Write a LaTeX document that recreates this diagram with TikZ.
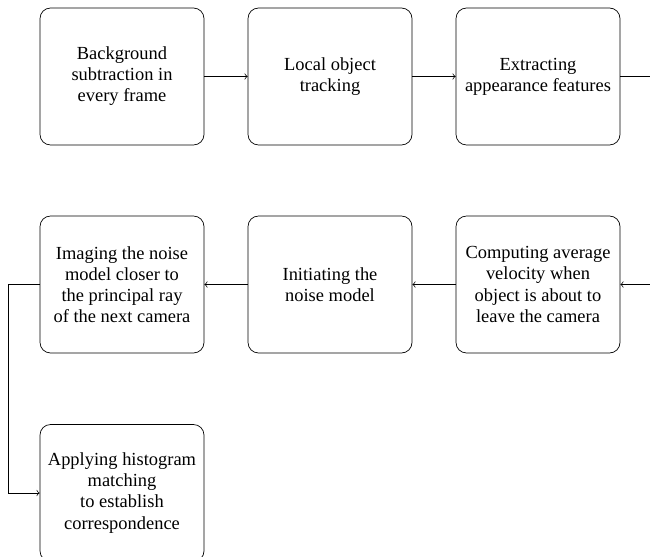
\documentclass[tikz,border=0pt]{standalone}
\usepackage{fontspec}
\setmainfont{Liberation Serif}
\usepackage{tikz}
\usetikzlibrary{arrows.meta,positioning}

\begin{document}
\begin{tikzpicture}[
        stage/.style={draw,rounded corners=6pt,minimum width=3.28cm,minimum height=2.74cm,
          align=center,font=\fontsize{10.5}{12}\selectfont,inner sep=2pt},
        flow/.style={->,>=to}
      ]
        \useasboundingbox (0,0) rectangle (13.0,-11.12);
        % first row
        \node[stage] (bgsub) at (2.44,-1.53) {Background\\subtraction in\\every frame};
        \node[stage] (track) at (6.6,-1.53) {Local object\\tracking};
        \node[stage] (feat) at (10.76,-1.53) {Extracting\\appearance features};
        % second row
        \node[stage] (veloc) at (10.76,-5.69) {Computing average\\velocity when\\object is about to\\leave the camera};
        \node[stage] (noise) at (6.6,-5.69) {Initiating the\\noise model};
        \node[stage] (image) at (2.44,-5.69) {Imaging the noise\\model closer to\\the principal ray\\of the next camera};
        % last
        \node[stage] (hist) at (2.44,-9.86) {Applying histogram\\matching\\to establish\\correspondence};
        \coordinate (turnR) at (13.3,-1.53);
        \coordinate (turnL) at (0.16,-5.69);
        \draw[flow] (bgsub) -- (track);
        \draw[flow] (track) -- (feat);
        \draw[flow] (feat) -- (turnR) |- (veloc);
        \draw[flow] (veloc) -- (noise);
        \draw[flow] (noise) -- (image);
        \draw[flow] (image) -- (turnL) |- (hist);
      \end{tikzpicture}
\end{document}
